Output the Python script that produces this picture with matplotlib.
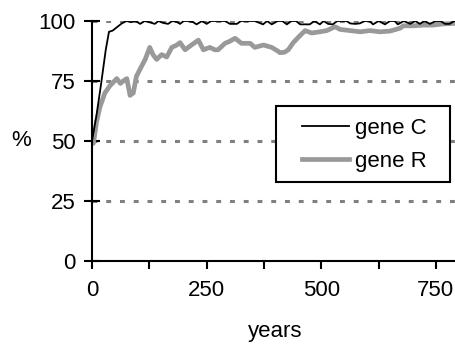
import matplotlib
matplotlib.use("Agg")
import matplotlib.pyplot as plt
from matplotlib.patches import Rectangle

plt.rcParams['font.family'] = ['Liberation Sans', 'DejaVu Sans']

c_years = [0, 10, 20, 30, 37, 45, 55, 65, 75, 85, 95, 105, 115, 125, 137, 145, 155, 166, 175, 185,
           192, 200, 210, 220, 228, 240, 250, 260, 270, 280, 290, 301, 308, 316, 325, 340, 355, 373,
           382, 392, 405, 415, 425, 435, 445, 454, 465, 475, 485, 497, 505, 515, 525, 535, 545, 555,
           563, 574, 584, 595, 605, 613, 625, 639, 650, 660, 667, 680, 694, 705, 715, 725, 737, 750,
           760, 770, 780, 790, 800]
c_vals = [50, 61, 74, 88, 95.5, 96, 97.5, 99, 100, 99.5, 100, 98.8, 100, 99.5, 98.8, 100, 99.2, 98.8, 100, 99.6,
          98.8, 100, 100, 99.6, 98.6, 100, 98.8, 100, 100, 100, 100, 98.8, 98.8, 98.8, 100, 100, 100, 98.6,
          100, 98.6, 100, 100, 98.6, 100, 100, 98.6, 98.6, 98.6, 100, 98.6, 100, 98.8, 98.6, 100, 100, 100,
          99, 98.8, 99, 100, 100, 98.6, 100, 98.6, 100, 100, 98.6, 100, 98.8, 100, 98.8, 100, 98.8, 100,
          100, 98.8, 98.8, 100, 100]

r_years = [0, 3, 10, 17, 28, 39, 54, 62, 68, 76, 80, 83, 90, 97, 105, 116, 126, 133, 141, 152, 163, 174,
           185, 192, 203, 217, 232, 243, 257, 268, 275, 290, 300, 312, 326, 345, 355, 374, 392, 405, 410,
           420, 428, 439, 454, 465, 479, 497, 512, 530, 541, 563, 585, 606, 628, 650, 672, 679, 701, 723,
           744, 766, 788, 800]
r_vals = [50, 49, 58, 64, 70, 73, 76, 74, 75, 76, 72, 69, 70, 77, 80, 84, 89, 86, 84, 86, 85, 89,
          90, 91, 88, 90, 92, 88, 89, 88, 88, 90.7, 91.5, 92.8, 90.7, 90.7, 89, 90, 89, 87.5, 86.8,
          87, 88, 91, 94, 96, 95, 95.5, 96, 97.6, 96.5, 96, 95.5, 96, 95.5, 95.8, 97, 98, 98, 98.3,
          98.3, 98.8, 99, 99]

x_ticks = [0, 125, 250, 375, 500, 625, 750]
x_labels = ['0', '', '250', '', '500', '', '750']
y_ticks = [0, 25, 50, 75, 100]

fs = 16
W, H = 456, 345

fig = plt.figure(figsize=(4.56, 3.45), dpi=100)
ax = fig.add_axes([92/W, 84/H, 366.8/W, 240/H])

for y in y_ticks[1:]:
    ax.axhline(y, color='#808080', lw=2.2, linestyle=(0, (1.6, 2.9)), zorder=1)

ax.plot(c_years, c_vals, color='black', lw=1.3, label='gene C', zorder=3)
ax.plot(r_years, r_vals, color='#999999', lw=3.4, label='gene R', zorder=2)

ax.set_xlim(0, 800)
ax.set_ylim(0, 100)
ax.set_xticks(x_ticks)
ax.set_xticklabels(x_labels)
ax.set_yticks(y_ticks)
ax.set_yticklabels([str(v) for v in y_ticks])

for s in ['top', 'right']:
    ax.spines[s].set_visible(False)
for s in ['left', 'bottom']:
    ax.spines[s].set_linewidth(1.5)
    ax.spines[s].set_zorder(4)

ax.tick_params(axis='x', direction='out', length=5.8, width=1.5, labelsize=fs, pad=8)
ax.tick_params(axis='y', direction='inout', length=11.5, width=1.5, labelsize=fs, pad=6)

ax.set_xlabel('years', fontsize=fs, labelpad=14)
ax.set_ylabel('%', fontsize=fs, rotation=0, va='center', ha='center')
ax.yaxis.set_label_coords((21-92)/366.8, 0.5)

# legend frame
frame = Rectangle((276/W, (H-182)/H), 174/W, 76/H, transform=fig.transFigure,
                  facecolor='white', edgecolor='black', lw=1.5, zorder=5)
fig.add_artist(frame)

leg = fig.legend(loc='upper left', bbox_to_anchor=(302/W, (H-118)/H),
                 fontsize=fs, frameon=False,
                 handlelength=2.1, handletextpad=0.3, labelspacing=0.55, borderpad=0,
                 borderaxespad=0)
leg.set_zorder(6)

fig.savefig('out.png', dpi=100)
